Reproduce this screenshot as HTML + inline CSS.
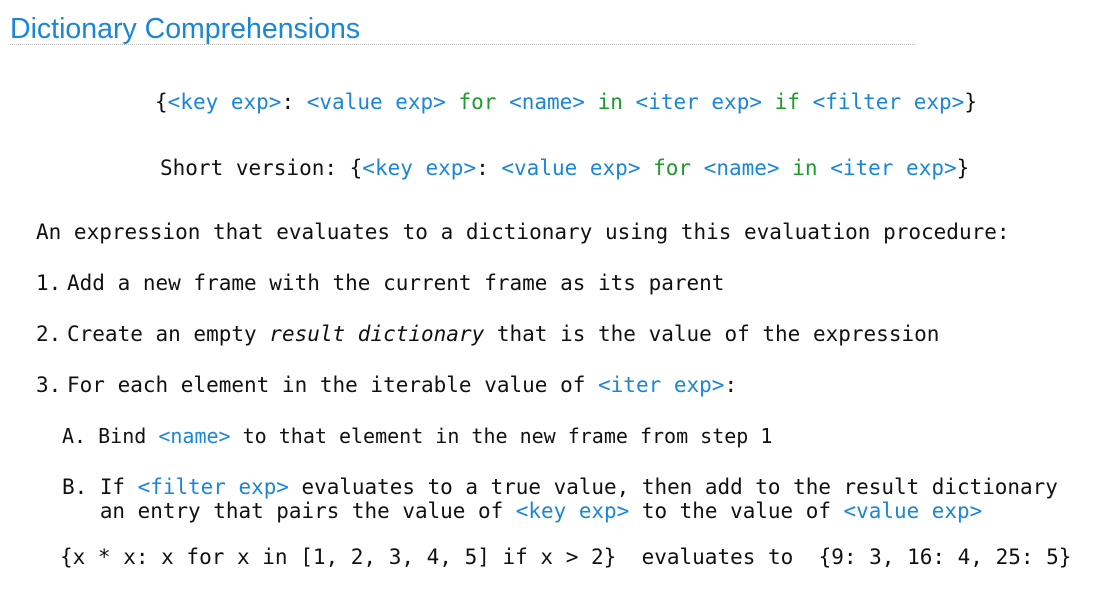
<!DOCTYPE html>
<html><head><style>
body{margin:0;width:1115px;height:590px;background:#fff;position:relative;overflow:hidden}
.t{position:absolute;left:10px;top:13px;font:28.5px "Liberation Sans",sans-serif;color:#1a86d6;white-space:pre}
.hr{position:absolute;left:10px;top:44px;width:905px;border-top:1px dotted #bbb}
.m{position:absolute;font-family:"DejaVu Sans Mono","Liberation Mono",monospace;font-size:21px;line-height:24px;white-space:pre;color:#111}
.s{font-size:20px}
.b{color:#1a86d6}.g{color:#1e9a2e}
.n{display:inline-block;width:31px}
</style></head><body>
<div class="t">Dictionary Comprehensions</div>
<div class="hr"></div>
<div class="m" style="left:155px;top:90px">{<span class="b">&lt;key exp&gt;</span>: <span class="b">&lt;value exp&gt;</span> <span class="g">for</span> <span class="b">&lt;name&gt;</span> <span class="g">in</span> <span class="b">&lt;iter exp&gt;</span> <span class="g">if</span> <span class="b">&lt;filter exp&gt;</span>}</div>
<div class="m" style="left:160px;top:156px">Short version: {<span class="b">&lt;key exp&gt;</span>: <span class="b">&lt;value exp&gt;</span> <span class="g">for</span> <span class="b">&lt;name&gt;</span> <span class="g">in</span> <span class="b">&lt;iter exp&gt;</span>}</div>
<div class="m" style="left:36px;top:220px">An expression that evaluates to a dictionary using this evaluation procedure:</div>
<div class="m" style="left:36px;top:271px"><span class="n">1.</span>Add a new frame with the current frame as its parent</div>
<div class="m" style="left:36px;top:322px"><span class="n">2.</span>Create an empty <i>result dictionary</i> that is the value of the expression</div>
<div class="m" style="left:36px;top:373px"><span class="n">3.</span>For each element in the iterable value of <span class="b">&lt;iter exp&gt;</span>:</div>
<div class="m s" style="left:62px;top:424px">A. Bind <span class="b">&lt;name&gt;</span> to that element in the new frame from step 1</div>
<div class="m" style="left:62px;top:475px;font-size:20.95px">B. If <span class="b">&lt;filter exp&gt;</span> evaluates to a true value, then add to the result dictionary
   an entry that pairs the value of <span class="b">&lt;key exp&gt;</span> to the value of <span class="b">&lt;value exp&gt;</span></div>
<div class="m" style="left:60px;top:545px">{x * x: x for x in [1, 2, 3, 4, 5] if x &gt; 2}  evaluates to  {9: 3, 16: 4, 25: 5}</div>
</body></html>
